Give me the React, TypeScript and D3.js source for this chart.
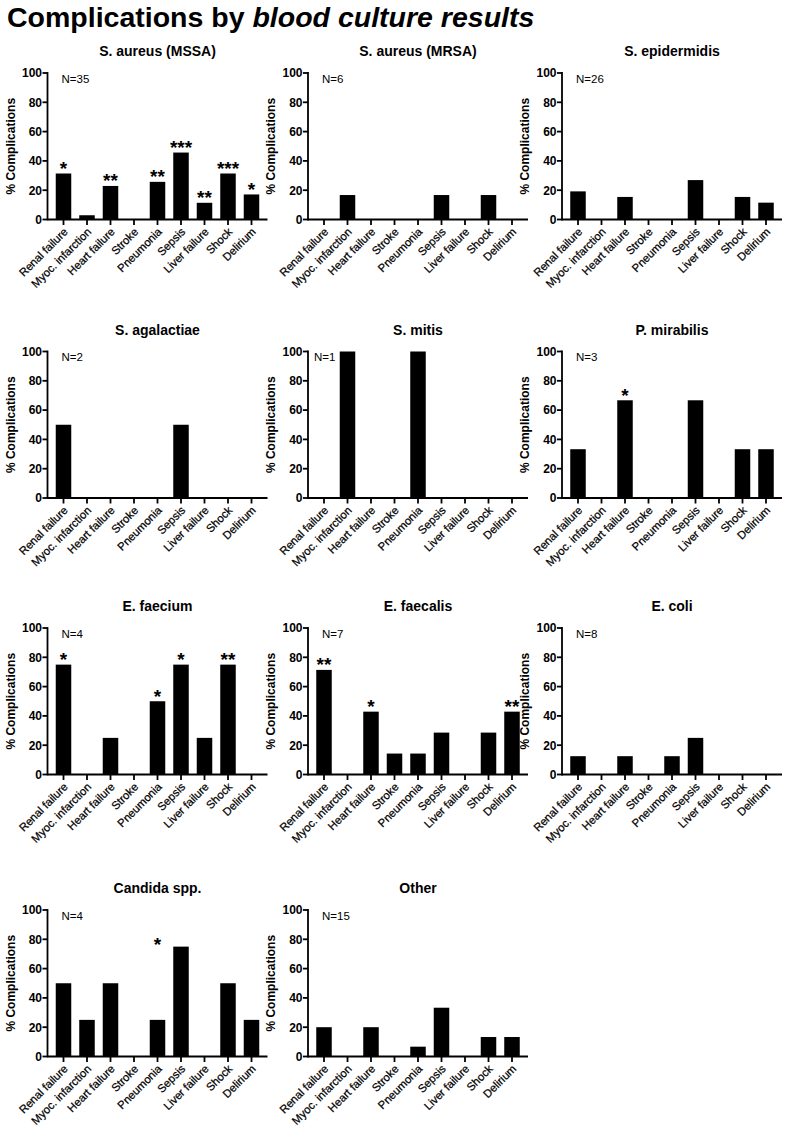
import React from "react";
import * as d3 from "d3";

const categories = [
  "Renal failure",
  "Myoc. infarction",
  "Heart failure",
  "Stroke",
  "Pneumonia",
  "Sepsis",
  "Liver failure",
  "Shock",
  "Delirium",
];

const yTicks = [0, 20, 40, 60, 80, 100];

const organisms = [
  "S. aureus (MSSA)",
  "S. aureus (MRSA)",
  "S. epidermidis",
  "S. agalactiae",
  "S. mitis",
  "P. mirabilis",
  "E. faecium",
  "E. faecalis",
  "E. coli",
  "Candida spp.",
  "Other",
];

const sampleSizes = [35, 6, 26, 2, 1, 3, 4, 7, 8, 4, 15];

const valuesMSSA = [31.4, 2.9, 22.9, 0, 25.7, 45.7, 11.4, 31.4, 17.1];
const valuesMRSA = [0, 16.7, 0, 0, 0, 16.7, 0, 16.7, 0];
const valuesEpidermidis = [19.2, 0, 15.4, 0, 0, 26.9, 0, 15.4, 11.5];
const valuesAgalactiae = [50, 0, 0, 0, 0, 50, 0, 0, 0];
const valuesMitis = [0, 100, 0, 0, 100, 0, 0, 0, 0];
const valuesMirabilis = [33.3, 0, 66.7, 0, 0, 66.7, 0, 33.3, 33.3];
const valuesFaecium = [75, 0, 25, 0, 50, 75, 25, 75, 0];
const valuesFaecalis = [71.4, 0, 42.9, 14.3, 14.3, 28.6, 0, 28.6, 42.9];
const valuesColi = [12.5, 0, 12.5, 0, 12.5, 25, 0, 0, 0];
const valuesCandida = [50, 25, 50, 0, 25, 75, 0, 50, 25];
const valuesOther = [20, 0, 20, 0, 6.7, 33.3, 0, 13.3, 13.3];

const starsMSSA = ["*", "", "**", "", "**", "***", "**", "***", "*"];
const starsMirabilis = ["", "", "*", "", "", "", "", "", ""];
const starsFaecium = ["*", "", "", "", "*", "*", "", "**", ""];
const starsFaecalis = ["**", "", "*", "", "", "", "", "", "**"];
const starsCandida = ["", "", "", "", "*", "", "", "", ""];
const noStars = ["", "", "", "", "", "", "", "", ""];

// level (in %) above which the significance mark sits, when it is not the bar top
const starLevelCandida = [null, null, null, null, 73, null, null, null, null];

const allValues = [
  valuesMSSA,
  valuesMRSA,
  valuesEpidermidis,
  valuesAgalactiae,
  valuesMitis,
  valuesMirabilis,
  valuesFaecium,
  valuesFaecalis,
  valuesColi,
  valuesCandida,
  valuesOther,
];
const allStars = [
  starsMSSA,
  noStars,
  noStars,
  noStars,
  noStars,
  starsMirabilis,
  starsFaecium,
  starsFaecalis,
  noStars,
  starsCandida,
  noStars,
];

const FONT = "'Liberation Sans', Arial, Helvetica, sans-serif";
const colX = [47.5, 308, 562];
const rowTop = [73, 351.5, 628, 910];
const PLOT_H = 146.5;
const PLOT_W = 220;

type PanelProps = {
  title: string;
  n: number;
  values: number[];
  stars: string[];
  starLevel?: (number | null)[];
  x0: number;
  y0: number;
};

function Panel({ title, n, values, stars, starLevel, x0, y0 }: PanelProps) {
  const x = d3
    .scaleBand<string>()
    .domain(categories)
    .range([x0 + 4.25, x0 + 215.75])
    .paddingInner(0.34)
    .paddingOuter(0.17);
  const y = d3.scaleLinear().domain([0, 100]).range([y0 + PLOT_H, y0]);
  const bw = x.bandwidth();
  const base = y(0);
  // the N label is pulled towards the axis when the second bar reaches the top
  const nX = values[1] > 90 ? x0 + 6 : x0 + 14;
  return (
    <g fontFamily={FONT}>
      <text
        x={x0 + PLOT_W / 2}
        y={y0 - 17}
        textAnchor="middle"
        fontSize={14}
        fontWeight="bold"
      >
        {title}
      </text>
      <text x={nX} y={y0 + 9.5} fontSize={11.5}>
        {`N=${n}`}
      </text>
      <text
        transform={`translate(${x0 - 37},${(y(0) + y(100)) / 2}) rotate(-90)`}
        textAnchor="middle"
        dy="0.35em"
        fontSize={12}
        fontWeight="bold"
      >
        % Complications
      </text>
      {values.map((v, i) => (
        <rect
          key={"b" + i}
          x={x(categories[i])!}
          y={y(v)}
          width={bw}
          height={base - y(v)}
          fill="#000"
        />
      ))}
      {stars.map((s, i) =>
        s ? (
          <text
            key={"s" + i}
            x={x(categories[i])! + bw / 2}
            y={y(starLevel && starLevel[i] != null ? (starLevel[i] as number) : values[i]) + 1.5}
            textAnchor="middle"
            fontSize={19}
            fontWeight="bold"
          >
            {s}
          </text>
        ) : null
      )}
      {yTicks.map((t) => (
        <g key={"y" + t}>
          <line x1={x0 - 5} x2={x0} y1={y(t)} y2={y(t)} stroke="#000" strokeWidth={1.8} />
          <text
            x={x0 - 5.5}
            y={y(t)}
            dy="0.36em"
            textAnchor="end"
            fontSize={12}
            fontWeight="bold"
          >
            {t}
          </text>
        </g>
      ))}
      <line x1={x0} x2={x0} y1={y(100) - 0.9} y2={base + 0.9} stroke="#000" strokeWidth={1.8} />
      <line x1={x0} x2={x0 + PLOT_W} y1={base} y2={base} stroke="#000" strokeWidth={1.8} />
      {categories.map((c) => {
        const cx = x(c)! + bw / 2;
        return (
          <g key={"x" + c}>
            <line x1={cx} x2={cx} y1={base} y2={base + 5.5} stroke="#000" strokeWidth={1.8} />
            <text
              transform={`translate(${cx + 5},${base + 13}) rotate(-45)`}
              textAnchor="end"
              fontSize={11.3}
              stroke="#000"
              strokeWidth={0.25}
            >
              {c}
            </text>
          </g>
        );
      })}
    </g>
  );
}

export default function App() {
  return (
    <svg
      width={787}
      height={1134}
      viewBox="0 0 787 1134"
      style={{ position: "absolute", left: 0, top: 0, background: "#fff" }}
    >
      <rect width={787} height={1134} fill="#fff" />
      <text x={7} y={27} fontFamily={FONT} fontSize={28.5} fontWeight="bold">
        Complications by <tspan fontStyle="italic">blood culture results</tspan>
      </text>
      {organisms.map((name, i) => (
        <Panel
          key={name}
          title={name}
          n={sampleSizes[i]}
          values={allValues[i]}
          stars={allStars[i]}
          starLevel={i === 9 ? starLevelCandida : undefined}
          x0={colX[i % 3]}
          y0={rowTop[Math.floor(i / 3)]}
        />
      ))}
    </svg>
  );
}
